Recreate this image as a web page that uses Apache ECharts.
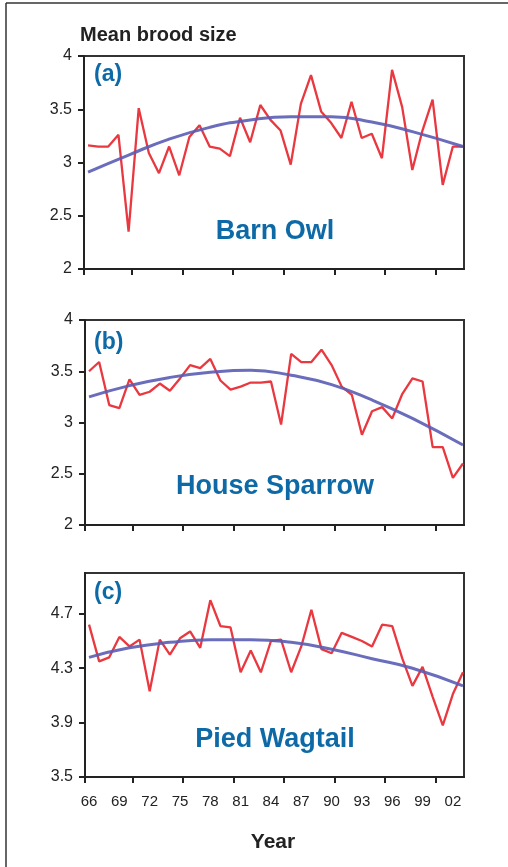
<!DOCTYPE html>
<html>
<head>
<meta charset="utf-8">
<script src="https://cdn.jsdelivr.net/npm/echarts@6/dist/echarts.min.js"></script>
<style>
html,body{margin:0;padding:0;background:#fff;}
#chart{width:508px;height:867px;}
</style>
</head>
<body>
<div id="chart"></div>
<script>
// ---- data ----
const years = [1966,1967,1968,1969,1970,1971,1972,1973,1974,1975,1976,1977,1978,1979,1980,1981,1982,1983,1984,1985,1986,1987,1988,1989,1990,1991,1992,1993,1994,1995,1996,1997,1998,1999,2000,2001,2002,2003];
const barnOwl = [3.16,3.15,3.15,3.26,2.35,3.51,3.09,2.90,3.15,2.88,3.24,3.35,3.15,3.13,3.06,3.42,3.19,3.54,3.40,3.30,2.98,3.55,3.82,3.48,3.37,3.23,3.57,3.23,3.27,3.04,3.87,3.52,2.93,3.30,3.59,2.79,3.15,3.15];
const houseSparrow = [3.50,3.59,3.17,3.14,3.42,3.27,3.30,3.38,3.31,3.43,3.56,3.53,3.62,3.41,3.32,3.35,3.39,3.39,3.40,2.98,3.67,3.59,3.59,3.71,3.56,3.35,3.27,2.88,3.11,3.15,3.04,3.28,3.43,3.40,2.76,2.76,2.46,2.60];
const piedWagtail = [4.62,4.35,4.38,4.53,4.46,4.51,4.13,4.51,4.40,4.52,4.57,4.45,4.80,4.61,4.60,4.27,4.43,4.27,4.50,4.51,4.27,4.46,4.73,4.44,4.41,4.56,4.53,4.50,4.46,4.62,4.61,4.37,4.17,4.31,4.09,3.88,4.11,4.27];
// fitted trend curves
const trendYears = [1966,1970,1974,1978,1982,1986,1990,1994,1998,2003];
const barnOwlTrend = [2.91,3.07,3.22,3.33,3.40,3.43,3.43,3.38,3.29,3.15];
const houseSparrowTrend = [3.25,3.36,3.44,3.49,3.51,3.46,3.37,3.22,3.04,2.78];
const piedWagtailTrend = [4.38,4.45,4.49,4.51,4.51,4.49,4.44,4.37,4.30,4.17];
// axis ticks / labels
const yearLabels = [1966,1969,1972,1975,1978,1981,1984,1987,1990,1993,1996,1999,2002];
const xTickValues = [1965.6,1970.3,1975.3,1980.3,1985.3,1990.3,1995.3,2000.3];
const wagtailTicks = [3.5,3.9,4.3,4.7];
const panelTags = ['(a)','(b)','(c)'];
const speciesNames = ['Barn Owl','House Sparrow','Pied Wagtail'];

// ---- chart ----
const FONT = "'Liberation Sans', Arial, Helvetica, sans-serif";
const BLUE_TXT = '#0d6aa6';
const RED = '#e9383f';
const TREND = '#5a5db4';
const AX = '#222';

const grids = [
  {left:84, top:56, width:380, height:213},
  {left:85, top:320, width:379, height:205},
  {left:85, top:573, width:379, height:204}
];

function xAxis(i, showLabels){
  return {
    type:'value', gridIndex:i, min:1965.6, max:2003.1,
    axisLine:{show:true, onZero:false, lineStyle:{color:AX, width:2}},
    axisTick:{show:true, inside:false, length:6, customValues:xTickValues, lineStyle:{color:AX, width:2}},
    axisLabel:{show:showLabels, customValues:yearLabels, margin:17, color:'#222', fontSize:15, fontFamily:FONT,
      formatter:v=>String(Math.round(v)%100).padStart(2,'0')},
    splitLine:{show:false}
  };
}
function yAxisCfg(i, extra){
  return Object.assign({
    type:'value', gridIndex:i,
    axisLine:{show:true, onZero:false, lineStyle:{color:AX, width:2}},
    axisTick:{show:true, inside:false, length:6, lineStyle:{color:AX, width:2}},
    axisLabel:{color:'#222', fontSize:16, fontFamily:FONT, margin:12},
    splitLine:{show:false}
  }, extra);
}

const yAxes = [
  yAxisCfg(0,{min:2, max:4, interval:0.5}),
  yAxisCfg(1,{min:2, max:4, interval:0.5}),
  yAxisCfg(2,{min:3.5, max:5.0})
];
yAxes[2].axisTick = Object.assign({}, yAxes[2].axisTick, {customValues:wagtailTicks});
yAxes[2].axisLabel = Object.assign({}, yAxes[2].axisLabel, {customValues:wagtailTicks, formatter:v=>v.toFixed(1)});

const seriesVals = [barnOwl, houseSparrow, piedWagtail];
const trendVals = [barnOwlTrend, houseSparrowTrend, piedWagtailTrend];
const series = [];
seriesVals.forEach((vals,i)=>{
  series.push({type:'line', xAxisIndex:i, yAxisIndex:i, symbol:'none', silent:true, animation:false,
    data:years.map((y,k)=>[y, vals[k]]), lineStyle:{color:RED, width:2.3}, z:2});
});
trendVals.forEach((vals,i)=>{
  series.push({type:'line', xAxisIndex:i, yAxisIndex:i, symbol:'none', silent:true, animation:false, smooth:true,
    data:trendYears.map((y,k)=>[y, vals[k]]), lineStyle:{color:TREND, width:3, opacity:0.9}, z:3});
});

const tagY = [75, 343, 593];
const nameY = [232, 487, 740];
const graphic = [
  {type:'line', shape:{x1:6, y1:3, x2:6, y2:867}, style:{stroke:'#333', lineWidth:1.5}},
  {type:'line', shape:{x1:6, y1:3, x2:508, y2:3}, style:{stroke:'#333', lineWidth:1.5}},
  {type:'text', x:80, y:35, style:{text:'Mean brood size', fill:'#222', font:"bold 20px "+FONT, textVerticalAlign:'middle'}},
  {type:'text', x:273, y:842, style:{text:'Year', fill:'#222', font:"bold 21px "+FONT, textAlign:'center', textVerticalAlign:'middle'}}
];
panelTags.forEach((t,i)=>{
  graphic.push({type:'text', x:94, y:tagY[i], z:10, style:{text:t, fill:BLUE_TXT, font:"bold 23px "+FONT, textVerticalAlign:'middle'}});
});
speciesNames.forEach((t,i)=>{
  graphic.push({type:'text', x:275, y:nameY[i], z:10, style:{text:t, fill:BLUE_TXT, font:"bold 27px "+FONT, textAlign:'center', textVerticalAlign:'middle'}});
});

const chart = echarts.init(document.getElementById('chart'), null, {renderer:'canvas'});
chart.setOption({
  animation:false,
  backgroundColor:'#fff',
  grid:grids.map(g=>Object.assign({show:true, borderColor:'#333', borderWidth:2, backgroundColor:'transparent'}, g)),
  xAxis:[xAxis(0,false), xAxis(1,false), xAxis(2,true)],
  yAxis:yAxes,
  series:series,
  graphic:graphic
});
</script>
</body>
</html>
